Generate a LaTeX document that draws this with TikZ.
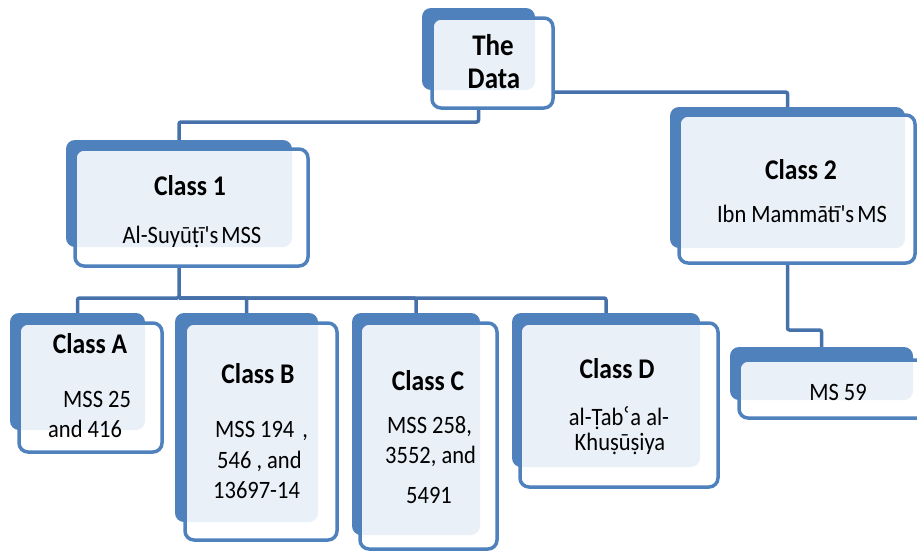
\documentclass[tikz,border=0pt]{standalone}
\usepackage{fontspec}
\setmainfont{Carlito}[Ligatures=TeXOff, FakeStretch=0.9]
\newfontfamily\dvfont{DejaVu Sans}[FakeStretch=0.9]
\definecolor{bblue}{HTML}{4F81BD}
\definecolor{fblue}{HTML}{4F81BD}
\definecolor{cblue}{HTML}{4671AA}
\definecolor{lightfill}{HTML}{EAF0F8}
\pgfdeclarelayer{bg}
\pgfsetlayers{bg,main}
\tikzset{
  backbox/.style={draw=none, fill=bblue, rounded corners=9pt, inner sep=0pt, outer sep=0pt},
  frontbox/.style={draw=fblue, line width=3.5pt, rounded corners=9pt, inner sep=0pt, outer sep=0pt},
  conn/.style={draw=cblue, line width=3.5pt, rounded corners=2pt},
  ttl/.style={font=\bfseries\fontsize{28.5}{32}\selectfont, inner sep=0pt, anchor=base},
  bigttl/.style={font=\bfseries\fontsize{30}{34}\selectfont, inner sep=0pt, anchor=base},
  sub/.style={font=\fontsize{25}{29}\selectfont, inner sep=0pt, anchor=base},
}
% #1 name, #2-#5 back box, #6-#9 front box
\newcommand\smbox[9]{%
  \node[backbox, minimum width={(#4-#2)*1pt}, minimum height={(#5-#3)*1pt}] (#1b) at ({(#2+#4)/2},{(#3+#5)/2}) {};
  \fill[white, rounded corners=9pt] (#6,#7) rectangle (#8,#9);
  \begin{scope}
    \clip[rounded corners=9pt] (#2,#3) rectangle (#4,#5);
    \fill[lightfill, rounded corners=9pt] (#6,#7) rectangle (#8,#9);
  \end{scope}
  \node[frontbox, minimum width={(#8-#6)*1pt}, minimum height={(#9-#7)*1pt}] (#1) at ({(#6+#8)/2},{(#7+#9)/2}) {};
}
\begin{document}
\begin{tikzpicture}[x=1pt,y=-1pt]
\useasboundingbox (0,0) rectangle (917,552);
\smbox{data}{422}{8}{535}{90}{432}{18}{553}{108}
\smbox{cone}{66}{140}{292}{247}{75}{149}{308}{266}
\smbox{ctwo}{670}{107}{905}{248}{679}{115}{915}{263}
\smbox{ms}{730}{347}{913}{400}{739}{360}{930}{418}
\smbox{ca}{10}{313}{145}{430}{19}{323}{162}{452}
\smbox{cb}{175}{313}{318}{522}{185}{323}{337}{540}
\smbox{cc}{352}{313}{480}{535}{360}{323}{497}{549}
\smbox{cd}{512}{313}{700}{467}{520}{323}{718}{487}

\begin{pgfonlayer}{bg}
  \draw[conn] (datab.south) -- ++(0,32) -| (coneb.north);
  \draw[conn] ([yshift=-29pt]data.east) -| (ctwob.north);
  \draw[conn] (coneb.south) -- ++(0,51) -| (cab.north);
  \draw[conn] (coneb.south) ++(0,51) -| (cbb.north);
  \draw[conn] (coneb.south) ++(0,51) -| (ccb.north);
  \draw[conn] (coneb.south) ++(0,51) -| (cdb.north);
  \draw[conn] (ctwob.south) -- ++(0,82) -| (msb.north);
\end{pgfonlayer}

\node[bigttl] (tdata1) at (493,55) {The};
\node[bigttl] (tdata2) at (494,88) {Data};
\node[ttl] (tcone) at (190,195) {Class 1};
\node[sub] (scone) at (192,243) {Al-Suyūṭī's\hspace{-2pt} MSS};
\node[ttl] (tctwo) at (801,179) {Class 2};
\node[sub] (sctwo) at (802,222) {Ibn Mammātī's\hspace{-2pt} MS};
\node[ttl] (tca) at (90,353) {Class A};
\node[sub,anchor=base west] (sca1) at (63,407) {MSS 25};
\node[sub,anchor=base west] (sca2) at (48,437) {and 416};
\node[ttl] (tcb) at (258,383) {Class B};
\node[sub,anchor=base west] (scb1) at (215,437) {MSS 194\hspace{8pt},};
\node[sub,anchor=base west] (scb2) at (217,468) {546 , and};
\node[sub,anchor=base west] (scb3) at (213,498) {13697-14};
\node[ttl] (tcc) at (428,390) {Class C};
\node[sub,anchor=base west] (scc1) at (387,433) {MSS 258,};
\node[sub,anchor=base west] (scc2) at (385,463) {3552, and};
\node[sub] (scc3) at (429,503) {5491};
\node[ttl] (tcd) at (617,378) {Class D};
\node[sub] (scd1) at (619,425) {al-Ṭab{\dvfont ʿ}a al-};
\node[sub] (scd2) at (620,450) {Khuṣūṣiya};
\node[sub] (sms) at (838,400) {MS 59};
\end{tikzpicture}
\end{document}
